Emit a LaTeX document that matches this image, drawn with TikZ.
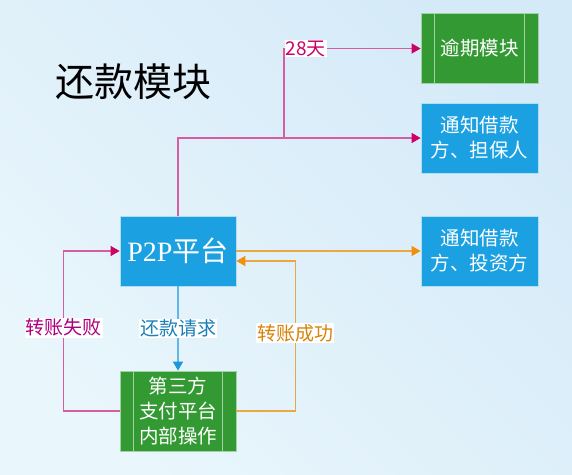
\documentclass[tikz,border=0pt]{standalone}
\usepackage{fontspec}
\setmainfont{Liberation Serif}
\newfontfamily\cjk{Noto Sans CJK SC}
\usetikzlibrary{arrows.meta, positioning, calc}
\definecolor{boxblue}{RGB}{27,161,226}
\definecolor{boxgreen}{RGB}{51,153,51}
\definecolor{linkpink}{RGB}{216,92,162}
\definecolor{tippink}{RGB}{204,0,102}
\definecolor{linkorange}{RGB}{236,168,64}
\definecolor{tiporange}{RGB}{240,144,10}
\definecolor{linkblue}{RGB}{96,184,232}
\definecolor{tipblue}{RGB}{30,150,216}
\definecolor{bgtop}{RGB}{233,246,252}
\definecolor{bgbottom}{RGB}{213,234,248}

\begin{document}
\begin{tikzpicture}[x=1pt, y=-1pt,
  bluebox/.style={draw=white!65!boxblue, line width=0.8pt, fill=boxblue, text=white, minimum width=117pt, minimum height=70pt, align=center, inner sep=0pt, font=\cjk\fontsize{19.5}{25}\selectfont},
  greenbox/.style={bluebox, fill=boxgreen, draw=white!55!boxgreen,
    path picture={\draw[white!55!boxgreen, line width=1pt]
      ([xshift=13.5pt]path picture bounding box.north west) -- ([xshift=13.5pt]path picture bounding box.south west)
      ([xshift=-13.5pt]path picture bounding box.north east) -- ([xshift=-13.5pt]path picture bounding box.south east);}},
  pinkline/.style={draw=linkpink, line width=1.3pt, -{Triangle[length=9pt, width=10pt, color=tippink]}},
  orangeline/.style={draw=linkorange, line width=1.3pt, -{Triangle[length=9pt, width=10pt, color=tiporange]}},
  blueline/.style={draw=linkblue, line width=1.3pt, -{Triangle[length=9pt, width=10pt, color=tipblue]}},
  tag/.style={fill=white, inner sep=1pt, font=\cjk\fontsize{19}{21}\selectfont}
]
  % background
  \shade[left color=bgtop, right color=bgbottom, shading angle=135] (0,0) rectangle (572,474);
  \useasboundingbox (0,0) rectangle (572,474);

  \node (title) at (133,82) {\cjk\fontsize{39}{41}\selectfont 还款模块};

  % boxes
  \node[greenbox] (late) at (479.5,48.5) {逾期模块};
  \node[bluebox] (notify1) at (479.5,138) {通知借款\\方、担保人};
  \node[bluebox] (notify2) at (479.5,251) {通知借款\\方、投资方};
  \node[bluebox, minimum width=116pt, font=\fontsize{28}{32}\selectfont] (p2p) at (178,251) {P2P{\cjk 平台}};
  \node[greenbox, minimum width=116pt, minimum height=80pt] (pay) at (178,411) {第三方\\支付平台\\内部操作};

  % connectors
  \draw[pinkline] (p2p.north) |- (notify1.west);
  \coordinate (fork) at (284,138);
  \draw[pinkline] (fork) |- node[pos=0.58, tag, text=tippink] {28{\cjk 天}} (late.west);
  \draw[orangeline] (p2p.east) -- (notify2.west);
  \draw[blueline] (p2p.south) -- node[tag, text=tipblue!85!black] {还款请求} (pay.north);
  \draw[orangeline] (pay.east) -- ++(59,0) |- node[pos=0.26, tag, text=tiporange!90!black] {转账成功} ([yshift=-10pt]p2p.east);
  \draw[pinkline] (pay.west) -- ++(-56,0) |- node[pos=0.26, tag, text=tippink!85!blue] {转账失败} (p2p.west);
\end{tikzpicture}
\end{document}
